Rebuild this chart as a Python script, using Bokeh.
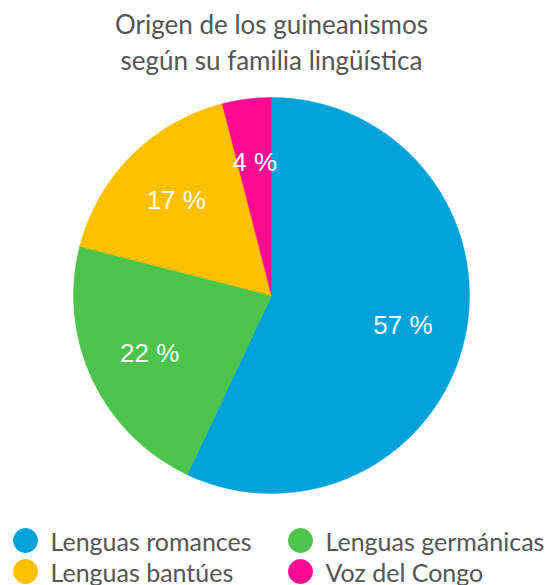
import numpy as np
from bokeh.plotting import figure
from bokeh.models import ColumnDataSource, Range1d
from bokeh.core.properties import value
from bokeh.embed import file_html
from bokeh.resources import INLINE

# ---- data ----
title_lines = ["Origen de los guineanismos", "según su familia lingüística"]
categories = ["Lenguas romances", "Lenguas germánicas", "Lenguas bantúes", "Voz del Congo"]
shares = [57, 22, 17, 4]
colors = ["#00A3D9", "#4CC34B", "#FFC000", "#FF0A91"]
legend_order = ["Lenguas romances", "Lenguas germánicas", "Lenguas bantúes", "Voz del Congo"]

W, H = 549, 585
p = figure(width=W, height=H, output_backend="svg", toolbar_location=None,
           x_range=Range1d(0, W), y_range=Range1d(-H, 0),
           min_border=0, outline_line_color=None)
p.axis.visible = False
p.grid.visible = False
p.background_fill_color = "white"
p.border_fill_color = "white"

cx, cy, r = 271, -295, 198
vals = np.array(shares, dtype=float)
frac = vals / vals.sum()
cum_end = np.cumsum(frac)
cum_start = cum_end - frac
start = np.pi / 2 - cum_start * 2 * np.pi
end = np.pi / 2 - cum_end * 2 * np.pi
mid = (start + end) / 2
lab_r = 0.68 * r
src = ColumnDataSource(dict(
    start=start, end=end, color=colors,
    lx=cx + lab_r * np.cos(mid), ly=cy + lab_r * np.sin(mid),
    label=[f"{v} %" for v in shares],
))
p.wedge(x=cx, y=cy, radius=r, start_angle="start", end_angle="end",
        direction="clock", fill_color="color", line_color="color", line_width=0.5, source=src)
p.text(x="lx", y="ly", text="label", source=src, text_color="white",
       text_font=value("Liberation Sans"), text_font_size="26px",
       text_align="center", text_baseline="middle")

# title
p.text(x=[271, 271], y=[-23, -59], text=title_lines, text_color="#555555",
       text_font=value("Lato"), text_font_size="26px",
       text_align="center", text_baseline="middle")

# legend
col_x = [25, 300]
row_y = [-540, -571]
lg = dict(x=[], y=[], c=[], t=[])
for i, name in enumerate(legend_order):
    lg["x"].append(col_x[i % 2]); lg["y"].append(row_y[i // 2])
    lg["c"].append(colors[categories.index(name)]); lg["t"].append(name)
lsrc = ColumnDataSource(lg)
p.scatter(x="x", y="y", size=24, marker="circle", fill_color="c", line_color="c", source=lsrc)
p.text(x="x", y="y", x_offset=25, text="t", source=lsrc, text_color="#555555",
       text_font=value("Lato"), text_font_size="25px",
       text_align="left", text_baseline="middle")

open("out.html", "w").write(file_html(p, INLINE))
